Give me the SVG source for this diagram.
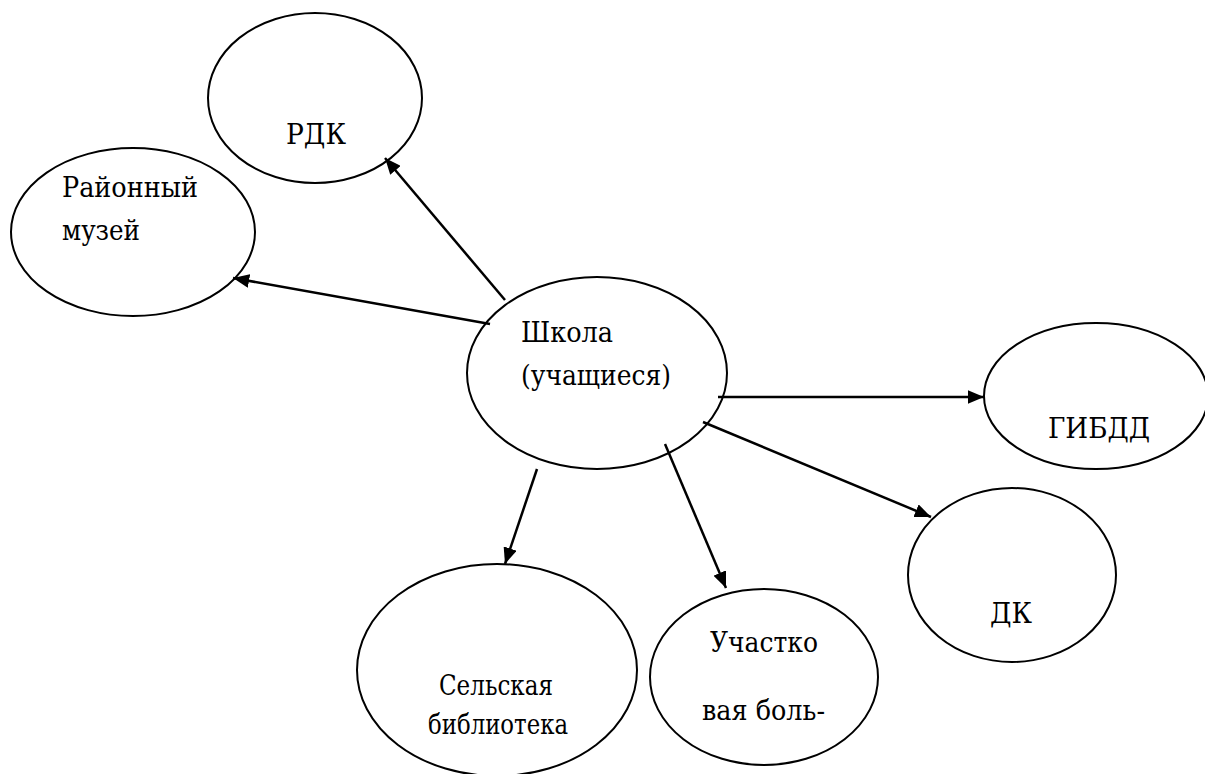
<svg xmlns="http://www.w3.org/2000/svg" width="1205" height="774" viewBox="0 0 1205 774">
<style>
.node ellipse{fill:#fff;stroke:#000;stroke-width:2}
.node text{font-family:'DejaVu Serif','Liberation Serif',serif;font-size:28px;fill:#000}
.c line{stroke:#000;stroke-width:2.5}
</style>
<defs>
<marker id="ah" viewBox="0 0 10 10" refX="10" refY="5" markerWidth="6.5" markerHeight="5.5" orient="auto" markerUnits="strokeWidth" preserveAspectRatio="none">
<path d="M0,0 L10,5 L0,10 z" fill="#000"/>
</marker>
</defs>
<rect width="1205" height="774" fill="#fff"/>
<g id="rdk" class="node"><ellipse cx="315" cy="98" rx="107" ry="85"/><text x="286" y="144" textLength="60" lengthAdjust="spacingAndGlyphs">РДК</text></g>
<g id="museum" class="node"><ellipse cx="133" cy="232" rx="122" ry="84"/><text x="62" y="197" textLength="136" lengthAdjust="spacingAndGlyphs">Районный</text><text x="62" y="240" textLength="78" lengthAdjust="spacingAndGlyphs">музей</text></g>
<g id="school" class="node"><ellipse cx="597" cy="373" rx="130" ry="96"/><text x="521" y="342" textLength="92" lengthAdjust="spacingAndGlyphs">Школа</text><text x="521" y="385" textLength="150" lengthAdjust="spacingAndGlyphs">(учащиеся)</text></g>
<g id="gibdd" class="node"><ellipse cx="1096" cy="396" rx="112" ry="73"/><text x="1048" y="438" textLength="102" lengthAdjust="spacingAndGlyphs">ГИБДД</text></g>
<g id="dk" class="node"><ellipse cx="1012" cy="575" rx="104" ry="87"/><text x="990" y="623" textLength="42" lengthAdjust="spacingAndGlyphs">ДК</text></g>
<g id="library" class="node"><ellipse cx="497" cy="670" rx="140" ry="106"/><text x="439" y="695" textLength="114" lengthAdjust="spacingAndGlyphs">Сельская</text><text x="428" y="734" textLength="140" lengthAdjust="spacingAndGlyphs">библиотека</text></g>
<g id="hospital" class="node"><ellipse cx="764" cy="677" rx="114" ry="88"/><text x="710" y="652" textLength="108" lengthAdjust="spacingAndGlyphs">Участко</text><text x="702" y="720" textLength="123" lengthAdjust="spacingAndGlyphs">вая боль-</text></g>
<g id="connectors" class="c">
<line x1="505" y1="300" x2="385" y2="158" marker-end="url(#ah)"/>
<line x1="490" y1="324" x2="233" y2="278" marker-end="url(#ah)"/>
<line x1="718" y1="397" x2="984" y2="397" marker-end="url(#ah)"/>
<line x1="703" y1="422" x2="931" y2="517" marker-end="url(#ah)"/>
<line x1="537" y1="469" x2="505" y2="564" marker-end="url(#ah)"/>
<line x1="665" y1="444" x2="726" y2="588" marker-end="url(#ah)"/>
</g>
</svg>
